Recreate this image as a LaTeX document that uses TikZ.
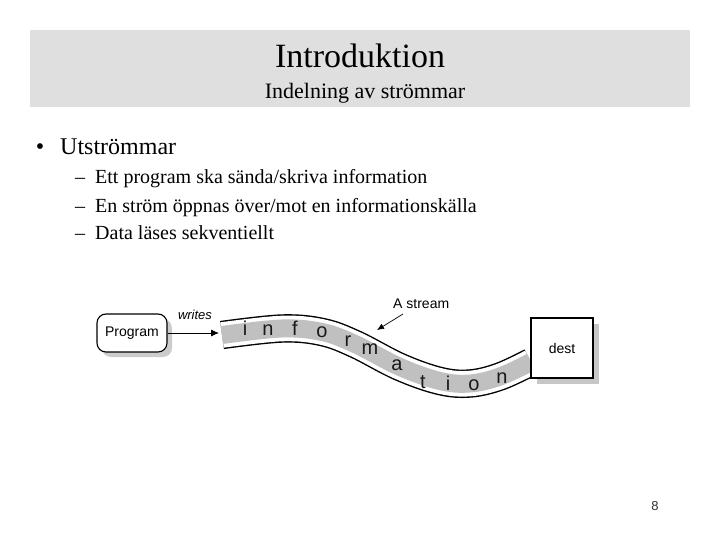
\documentclass[tikz,border=0pt]{standalone}
\usepackage{fontspec}
\setmainfont{Liberation Serif}
\newfontfamily\arialf{Liberation Sans}
\usetikzlibrary{arrows.meta,shadows}
\definecolor{titlegray}{HTML}{DFDFDF}
\definecolor{bandgray}{HTML}{C0C0C0}
\begin{document}
\begin{tikzpicture}[x=1pt,y=-1pt,
  txt/.style={inner sep=0pt, anchor=base west},
  sansbox/.style={font=\arialf\fontsize{14}{16}\selectfont},
  progbox/.style={sansbox, draw, line width=1.1pt, fill=white, rounded corners=9pt,
    minimum width=70pt, minimum height=38pt, inner sep=0pt,
    drop shadow={shadow xshift=5pt, shadow yshift=-5pt, fill=gray!40, opacity=1}},
  destbox/.style={sansbox, draw, line width=1.5pt, fill=white,
    minimum width=62pt, minimum height=60pt, inner sep=0pt,
    drop shadow={shadow xshift=6pt, shadow yshift=-6pt, fill=gray!45, opacity=1}},
  letter/.style={font=\arialf\fontsize{20}{22}\selectfont, text=black!90, inner sep=0pt, anchor=base},
  arr/.style={-{Latex[length=8pt,width=7pt]}, line width=0.8pt}
]
\useasboundingbox (0,0) rectangle (720,540);
% title band
\fill[titlegray] (30,30) rectangle (690,107);
\node[inner sep=0pt, anchor=base] (title) at (360,68) {\fontsize{34}{40}\selectfont Introduktion};
\node[inner sep=0pt, anchor=base] (subtitle) at (365,99) {\fontsize{22}{26}\selectfont Indelning av strömmar};
% bullets
\node[inner sep=0pt, anchor=base] (bul) at (40,155) {\fontsize{24}{28}\selectfont •};
\node[txt] (b1) at (60,155) {\fontsize{24}{28}\selectfont Utströmmar};
\node[txt] (d1) at (75,184) {\fontsize{20}{24}\selectfont –};
\node[txt] (s1) at (95,184) {\fontsize{20}{24}\selectfont Ett program ska sända/skriva information};
\node[txt] (d2) at (75,212) {\fontsize{20}{24}\selectfont –};
\node[txt] (s2) at (95,212) {\fontsize{20}{24}\selectfont En ström öppnas över/mot en informationskälla};
\node[txt] (d3) at (75,240) {\fontsize{20}{24}\selectfont –};
\node[txt] (s3) at (95,240) {\fontsize{20}{24}\selectfont Data läses sekventiellt};
% stream
\draw[line width=28.4pt,
  postaction={draw, white, line width=25.6pt},
  postaction={draw, bandgray, line width=18pt}]
  plot[smooth, tension=0.6] coordinates {(222,335) (282,328.5) (322,332) (355,344) (400,367) (440,381) (470,383.5) (500,376.5) (531,362)};
\foreach \ch/\px/\py [count=\k] in {i/245/335, n/268/335, f/295/335, o/322/337, r/348/346, m/370/354, a/397/370, t/423/388, i/448/390, o/474/390, n/502/383}
  \node[letter] (L\k) at (\px,\py) {\ch};
% program box
\node[progbox] (prog) at (132,333) {Program};
\coordinate (sin) at (219,333);
\draw[arr] (prog.east) -- (sin);
\node[inner sep=0pt, anchor=base] (writes) at (195,319) {\arialf\itshape\fontsize{13}{15}\selectfont writes};
% A stream label
\node[txt] (alab) at (393,308) {\arialf\fontsize{14}{16}\selectfont A stream};
\coordinate (astart) at (403,314);
\coordinate (aend) at (377,330);
\draw[-{Latex[length=7pt,width=6pt]}, line width=0.7pt] (astart) -- (aend);
% dest box
\node[destbox] (dest) at (562,348) {dest};
% page number
\node[inner sep=0pt, anchor=base] (pnum) at (655,510) {\arialf\fontsize{13}{15}\selectfont\color{black!80}8};
\end{tikzpicture}
\end{document}
